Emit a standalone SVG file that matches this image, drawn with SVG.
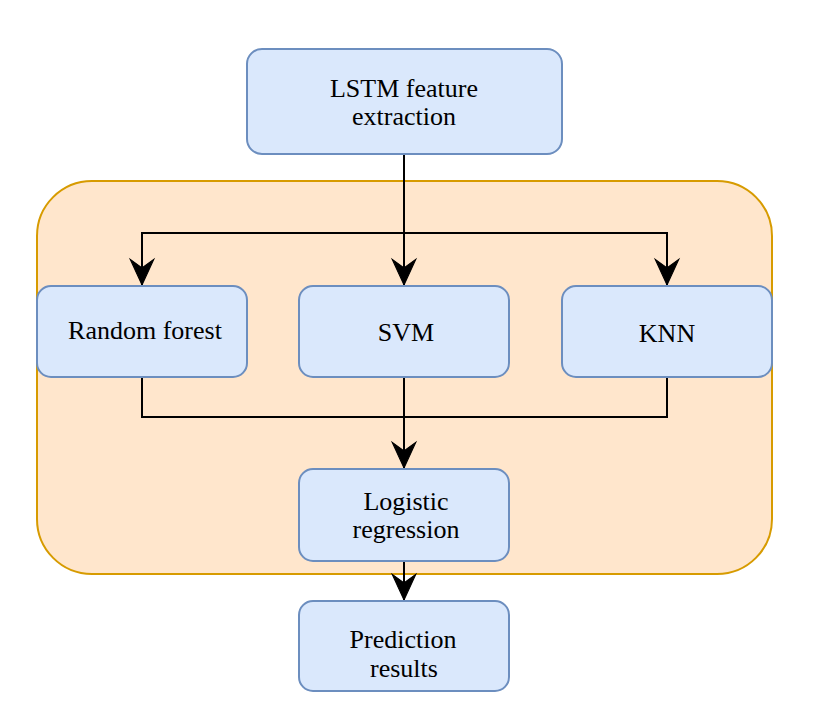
<svg xmlns="http://www.w3.org/2000/svg" width="821" height="728" viewBox="0 0 821 728">
  <style>
    .box { fill: #dae8fc; stroke: #6c8ebf; stroke-width: 2; }
    .group { fill: #ffe6cc; stroke: #d79b00; stroke-width: 2; }
    .lbl { font-family: "Liberation Serif", "Times New Roman", serif; font-size: 26px; fill: #000; text-anchor: middle; }
    .edge { fill: none; stroke: #000; stroke-width: 2; }
  </style>
  <defs>
    <marker id="arrow" markerUnits="userSpaceOnUse" markerWidth="30" markerHeight="30" viewBox="-26 -13 28 26" refX="0" refY="0" orient="auto" overflow="visible">
      <path d="M0,0 L-24,-11 L-16,0 L-24,11 Z" fill="#000" stroke="#000" stroke-width="1"/>
    </marker>
  </defs>
  <rect width="821" height="728" fill="#ffffff"/>

  <g id="ensemble-container">
    <rect class="group" x="37" y="181" width="735" height="393" rx="55" ry="55"/>
  </g>

  <g id="connectors">
    <path class="edge" d="M404,154 L404,285" marker-end="url(#arrow)"/>
    <path class="edge" d="M404,233 L142,233 L142,285" marker-end="url(#arrow)"/>
    <path class="edge" d="M404,233 L667,233 L667,285" marker-end="url(#arrow)"/>
    <path class="edge" d="M142,377 L142,417 L667,417 L667,377"/>
    <path class="edge" d="M404,377 L404,468" marker-end="url(#arrow)"/>
    <path class="edge" d="M404,561 L404,600" marker-end="url(#arrow)"/>
  </g>

  <g id="lstm">
    <rect class="box" x="247" y="49" width="315" height="105" rx="15" ry="15"/>
    <text class="lbl" x="404" y="97">LSTM feature</text>
    <text class="lbl" x="404" y="125">extraction</text>
  </g>

  <g id="random-forest">
    <rect class="box" x="37" y="286" width="210" height="91" rx="14" ry="14"/>
    <text class="lbl" x="145" y="339">Random forest</text>
  </g>

  <g id="svm">
    <rect class="box" x="299" y="286" width="210" height="91" rx="14" ry="14"/>
    <text class="lbl" x="406" y="341">SVM</text>
  </g>

  <g id="knn">
    <rect class="box" x="562" y="286" width="210" height="91" rx="14" ry="14"/>
    <text class="lbl" x="667" y="342">KNN</text>
  </g>

  <g id="logistic-regression">
    <rect class="box" x="299" y="469" width="210" height="92" rx="14" ry="14"/>
    <text class="lbl" x="406" y="510">Logistic</text>
    <text class="lbl" x="406" y="538">regression</text>
  </g>

  <g id="prediction-results">
    <rect class="box" x="299" y="601" width="210" height="90" rx="14" ry="14"/>
    <text class="lbl" x="403" y="648">Prediction</text>
    <text class="lbl" x="404" y="677">results</text>
  </g>
</svg>
